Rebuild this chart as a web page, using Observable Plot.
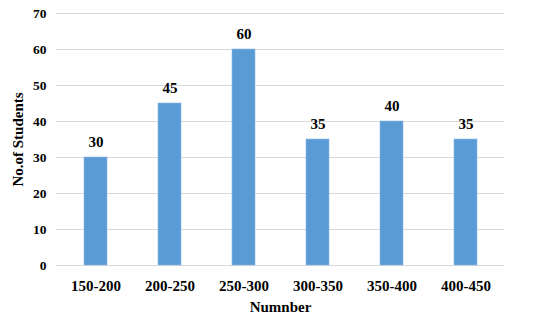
<!DOCTYPE html>
<html><head><meta charset="utf-8">
<script src="https://cdn.jsdelivr.net/npm/d3@7"></script>
<script src="https://cdn.jsdelivr.net/npm/@observablehq/plot@0.6"></script>
<style>
html,body{margin:0;padding:0;background:#fff;}
</style>
</head><body>
<div id="chart"></div>
<script>
const categories = ["150-200","200-250","250-300","300-350","350-400","400-450"];
const students = [30,45,60,35,40,35];
const yTicks = [0,10,20,30,40,50,60,70];
const xTitle = "Numnber";
const yTitle = "No.of Students";

const data = categories.map((c,i)=>({range:c, value:students[i]}));

const chart = Plot.plot({
  width: 554,
  height: 316,
  marginLeft: 56,
  marginRight: 50,
  marginTop: 13,
  marginBottom: 51,
  style: {fontFamily: "Liberation Serif", fontWeight: "bold", color: "#000", background: "#fff"},
  x: {domain: categories, paddingInner: 0.69, paddingOuter: 0.345},
  y: {domain: [0,70]},
  marks: [
    Plot.gridY(yTicks, {stroke: "#d9d9d9", strokeOpacity: 1, strokeWidth: 1.2}),
    Plot.barY(data, {x: "range", y: "value", fill: "#5b9bd5", stroke: "#8ab8e4", strokeWidth: 0.6}),
    Plot.text(data, {x: "range", y: "value", text: d => String(d.value), lineAnchor: "bottom", dy: -11, fontSize: 15, fontWeight: "bold", fill: "#000"}),
    Plot.axisY({ticks: yTicks, tickSize: 0, tickPadding: 10, fontSize: 13.5, label: yTitle, labelAnchor: "center", labelArrow: "none", labelOffset: 44}),
    Plot.axisX({tickSize: 0, tickPadding: 15, fontSize: 15, label: xTitle, labelAnchor: "center", labelArrow: "none", labelOffset: 46})
  ]
});
chart.setAttribute("font-family", "Liberation Serif");
chart.setAttribute("font-weight", "bold");
document.getElementById("chart").appendChild(chart);
chart.querySelectorAll('g[aria-label="y-axis label"] text, g[aria-label="x-axis label"] text').forEach(t=>{t.setAttribute("font-size","15");});
</script>
</body></html>
